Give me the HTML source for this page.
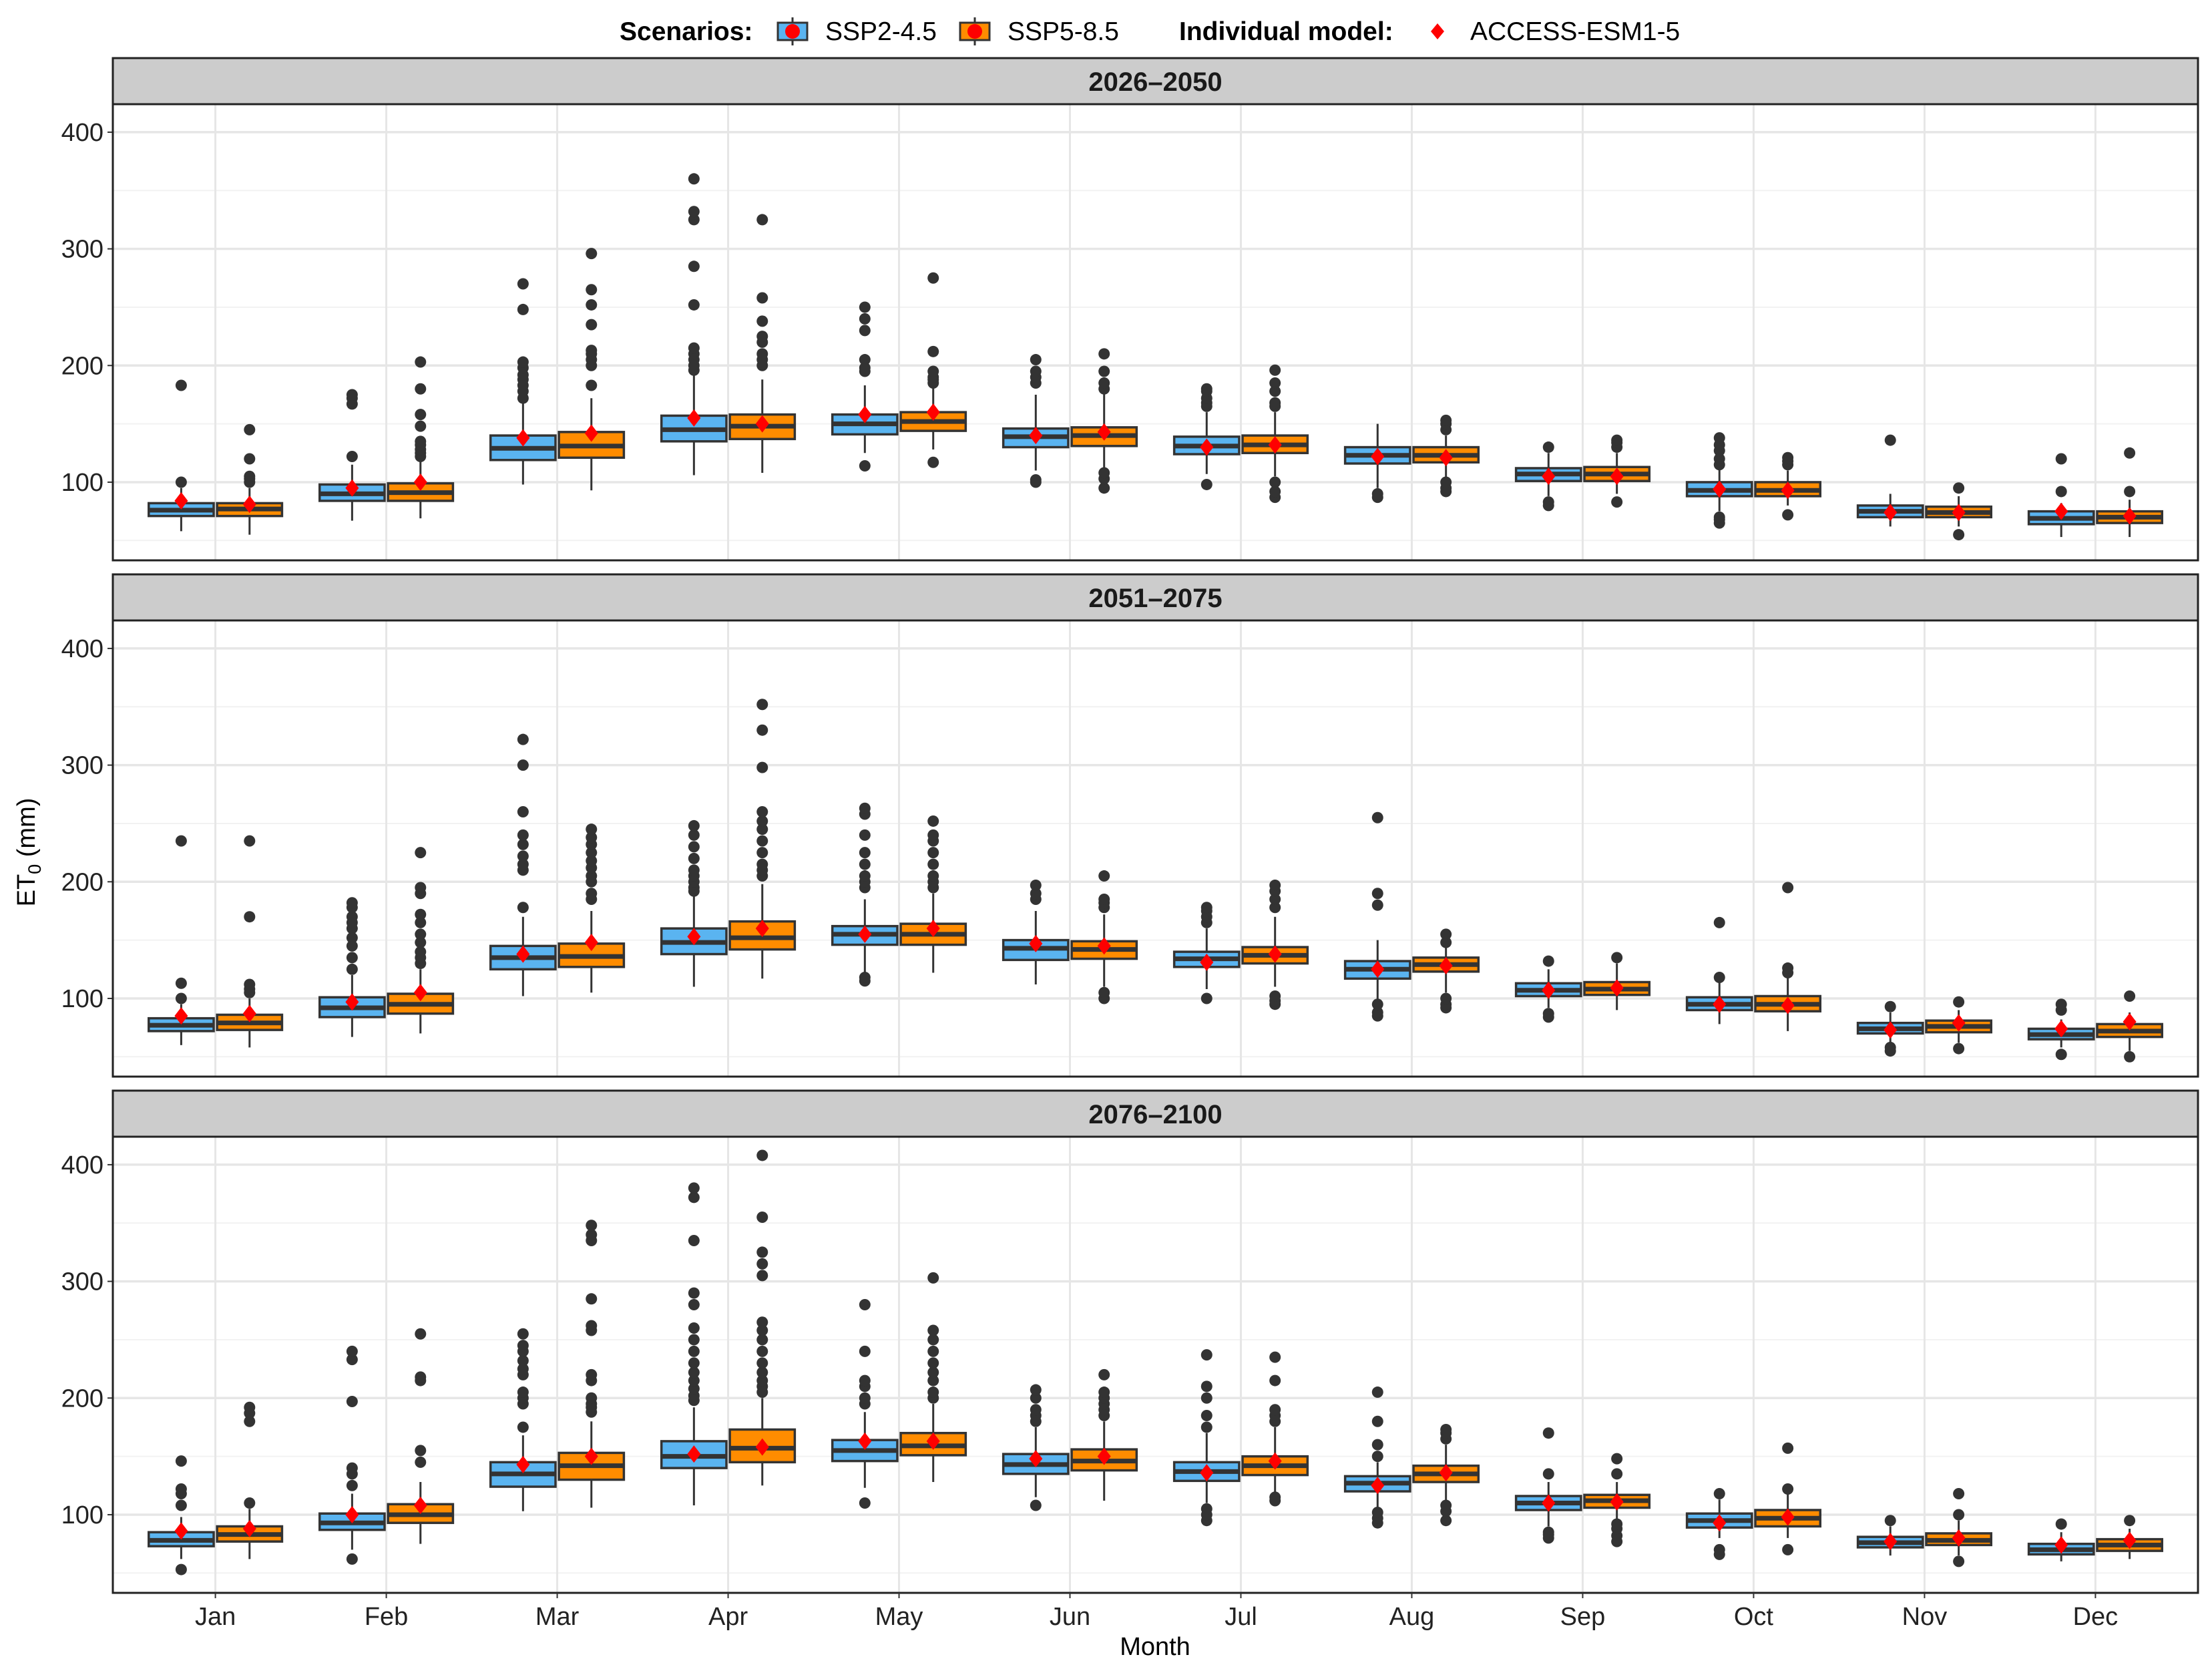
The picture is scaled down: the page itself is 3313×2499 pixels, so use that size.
<!DOCTYPE html>
<html><head><meta charset="utf-8"><style>
html,body{margin:0;padding:0;background:#fff;}
svg{display:block;font-family:"Liberation Sans",Arial,sans-serif;}
</style></head><body>
<svg id="chart" width="3313" height="2499" viewBox="0 0 3313 2499" xmlns="http://www.w3.org/2000/svg">
<g>
<text x="928" y="60" font-size="39" font-weight="bold">Scenarios:</text>
<g>
<line x1="1187" y1="26" x2="1187" y2="68" stroke="#333" stroke-width="3"/>
<rect x="1165" y="34" width="44" height="26" fill="#5ab4f0" stroke="#333" stroke-width="3"/>
<circle cx="1187" cy="47" r="11" fill="#ff0000"/>
<text x="1236" y="60" font-size="39">SSP2-4.5</text></g>
<g>
<line x1="1460" y1="26" x2="1460" y2="68" stroke="#333" stroke-width="3"/>
<rect x="1438" y="34" width="44" height="26" fill="#ff8c00" stroke="#333" stroke-width="3"/>
<circle cx="1460" cy="47" r="11" fill="#ff0000"/>
<text x="1509" y="60" font-size="39">SSP5-8.5</text></g>
<text x="1766" y="60" font-size="39" font-weight="bold">Individual model:</text>
<g>
<polygon points="2153,35 2163,47 2153,59 2143,47" fill="#ff0000"/>
<text x="2202" y="60" font-size="39">ACCESS-ESM1-5</text></g>
</g>
<text transform="translate(52,1276) rotate(-90)" text-anchor="middle" font-size="38">ET<tspan font-size="27" dy="9">0</tspan><tspan dy="-9"> (mm)</tspan></text>
<text x="1730" y="2478" text-anchor="middle" font-size="38">Month</text>
<g id="plots"></g>
</svg>
<script>
const months = ["Jan","Feb","Mar","Apr","May","Jun","Jul","Aug","Sep","Oct","Nov","Dec"];
const periods = ["2026–2050","2051–2075","2076–2100"];
const yTicks = [100,200,300,400];
const yMinor = [50,150,250,350];
// stats: [lowWhisker, q1, median, q3, highWhisker]
const p1_ssp245_stats = [[58,71,76,82,95],[67,84,90,98,115],[98,119,129,140,168],[106,135,145,157,192],[125,141,150,158,183],[110,130,139,146,175],[107,124,131,139,160],[95,116,123,130,150],[88,101,107,112,125],[75,88,93,100,112],[62,70,75,80,90],[53,64,69,75,82]];
const p1_ssp585_stats = [[55,71,77,82,95],[69,84,91,99,118],[93,121,131,143,172],[108,137,148,158,188],[128,144,152,160,183],[112,131,140,147,180],[105,125,132,140,160],[100,117,123,130,140],[90,101,107,113,125],[80,88,93,100,110],[62,70,74,79,88],[53,65,70,75,85]];
const p1_ssp245_out = [[100,183],[122,167,172,175],[172,178,183,188,192,198,203,248,270],[196,200,205,210,215,252,285,325,332,360],[114,195,198,205,230,240,250],[100,102,185,190,195,205],[98,165,168,172,178,180],[87,90],[80,83,130],[65,68,70,115,120,127,132,138],[136],[92,120]];
const p1_ssp585_out = [[100,103,105,120,145],[122,125,128,132,135,148,158,180,203],[183,200,205,210,213,235,252,265,296],[200,205,210,220,225,238,258,325],[117,185,188,190,195,212,275],[95,103,108,180,185,195,210],[87,92,100,165,168,178,185,196],[92,95,100,145,150,153],[83,130,134,136],[72,115,118,121],[55,95],[92,125]];
const p1_ssp245_model = [84,95,138,155,158,140,130,122,105,94,74,75];
const p1_ssp585_model = [81,100,142,150,160,143,132,121,105,93,74,71];

const p2_ssp245_stats = [[60,72,77,83,95],[67,84,92,101,120],[102,125,135,145,170],[110,138,148,160,188],[120,146,155,162,185],[112,133,143,150,175],[108,127,134,140,160],[98,117,125,132,150],[92,102,107,113,125],[78,90,95,101,115],[60,70,74,79,88],[58,65,69,74,82]];
const p2_ssp585_stats = [[58,73,79,86,100],[70,87,95,104,125],[105,127,136,147,175],[117,142,152,166,198],[122,146,155,164,190],[110,134,142,149,172],[110,130,137,144,170],[105,123,129,135,145],[90,103,108,114,130],[72,89,95,102,118],[62,71,76,81,90],[55,67,72,78,88]];
const p2_ssp245_out = [[100,113,235],[125,135,145,152,160,165,170,178,182],[178,210,215,222,232,240,260,300,322],[192,195,200,205,210,220,230,240,248],[115,118,195,200,205,215,225,240,258,263],[185,190,197],[100,165,170,175,178],[85,88,95,180,190,255],[84,87,132],[118,165],[55,58,93],[52,90,95]];
const p2_ssp585_out = [[105,108,112,170,235],[130,135,140,148,155,165,172,190,195,225],[185,190,200,205,212,218,225,232,238,245],[205,210,215,225,235,245,252,260,298,330,352],[195,200,205,215,225,235,240,252],[100,105,178,182,185,205],[95,98,102,178,185,192,197],[92,95,100,148,155],[135],[122,126,195],[57,97],[50,102]];
const p2_ssp245_model = [85,97,138,153,155,147,131,125,107,95,73,74];
const p2_ssp585_model = [87,105,148,160,160,145,138,128,109,94,79,80];

const p3_ssp245_stats = [[62,73,78,85,98],[70,87,93,101,118],[103,124,135,145,168],[108,140,150,163,192],[123,146,155,164,188],[115,135,143,152,175],[110,129,137,145,170],[105,120,127,133,145],[90,104,110,116,128],[80,89,95,101,113],[65,72,76,81,90],[60,66,70,75,85]];
const p3_ssp585_stats = [[62,77,83,90,105],[75,93,100,109,128],[106,130,142,153,180],[125,145,157,173,200],[128,151,159,170,195],[112,138,146,156,180],[115,134,142,150,175],[108,128,135,142,160],[95,106,112,117,128],[80,90,97,104,118],[65,74,78,84,95],[62,69,74,79,88]];
const p3_ssp245_out = [[53,108,118,122,146],[62,125,135,140,197,233,240],[175,195,200,205,220,225,232,240,245,255],[198,202,208,215,222,230,240,250,260,280,290,335,372,380],[110,195,200,210,215,240,280],[108,180,185,190,200,207],[95,100,105,175,185,200,210,237],[93,97,102,150,160,180,205],[80,83,85,135,170],[66,70,118],[95],[92]];
const p3_ssp585_out = [[110,180,187,192],[145,155,215,218,255],[188,192,195,200,215,220,258,262,285,335,340,348],[205,210,215,222,230,240,250,258,265,305,315,325,355,408],[200,205,215,222,230,240,250,258,303],[185,190,195,200,205,220],[112,115,180,185,190,215,235],[95,103,108,165,170,173],[77,82,88,92,135,148],[70,122,157],[60,100,118],[95]];
const p3_ssp245_model = [86,100,143,152,163,148,136,125,110,93,77,74];
const p3_ssp585_model = [88,108,150,158,163,150,146,136,111,98,80,78];

const panelsData = [
  [p1_ssp245_stats,p1_ssp585_stats,p1_ssp245_out,p1_ssp585_out,p1_ssp245_model,p1_ssp585_model],
  [p2_ssp245_stats,p2_ssp585_stats,p2_ssp245_out,p2_ssp585_out,p2_ssp245_model,p2_ssp585_model],
  [p3_ssp245_stats,p3_ssp585_stats,p3_ssp245_out,p3_ssp585_out,p3_ssp245_model,p3_ssp585_model]
];

const NS="http://www.w3.org/2000/svg";
const root=document.getElementById('plots');
function mk(tag,attrs,parent){const e=document.createElementNS(NS,tag);for(const k in attrs)e.setAttribute(k,attrs[k]);parent.appendChild(e);return e;}
const L=169,R=3292,YMAX=424,YMIN=33;
const stripTops=[87,860,1633], stripH=69, plotH=683;
const band=(R-L)/(months.length+0.2);
function xScale(i){return L+(i+0.6)*band;}
const colors=["#5ab4f0","#ff8c00"];
const scen=["ssp245","ssp585"];

periods.forEach((per,pi)=>{
  const g=mk('g',{},root);
  
  
  const top=stripTops[pi]+stripH, bot=top+plotH;
  const yScale=v=>top+(YMAX-v)/(YMAX-YMIN)*plotH;
  const strip=mk('rect',{x:L,y:stripTops[pi],width:R-L,height:stripH,fill:'#cccccc',stroke:'#222','stroke-width':3},g);
  
  
  const st=mk('text',{x:(L+R)/2,y:stripTops[pi]+49,'text-anchor':'middle','font-size':40,'font-weight':'bold',fill:'#1a1a1a'},g);
  st.textContent=per;
  
  
  mk('rect',{x:L,y:top,width:R-L,height:plotH,fill:'#fff'},g);
  yMinor.forEach(v=>{mk('line',{x1:L,x2:R,y1:yScale(v),y2:yScale(v),stroke:'#f2f2f2','stroke-width':2},g);});
  yTicks.forEach(v=>{
    const y=yScale(v);
    const gl=mk('line',{x1:L,x2:R,y1:y,y2:y,stroke:'#e6e6e6','stroke-width':3.5},g);
    
    
    const t=mk('text',{x:L-14,y:y+13,'text-anchor':'end','font-size':38,fill:'#222'},g);
    t.textContent=v;
    
    
    mk('line',{x1:L-8,x2:L,y1:y,y2:y,stroke:'#333','stroke-width':2},g);
  });
  months.forEach((m,i)=>{mk('line',{x1:xScale(i),x2:xScale(i),y1:top,y2:bot,stroke:'#e6e6e6','stroke-width':3},g);});
  const d=panelsData[pi];
  months.forEach((m,i)=>{
    for(let s=0;s<2;s++){
      const stats=d[s][i], outs=d[2+s][i], model=d[4+s][i];
      const cx=xScale(i)+(s===0?-0.2:0.2)*band, w=0.38*band;
      const bg=mk('g',{},g);
      
      
      mk('line',{x1:cx,x2:cx,y1:yScale(stats[0]),y2:yScale(stats[4]),stroke:'#333','stroke-width':3},bg);
      mk('rect',{x:cx-w/2,y:yScale(stats[3]),width:w,height:yScale(stats[1])-yScale(stats[3]),fill:colors[s],stroke:'#333','stroke-width':3.5},bg);
      mk('line',{x1:cx-w/2,x2:cx+w/2,y1:yScale(stats[2]),y2:yScale(stats[2]),stroke:'#333','stroke-width':7},bg);
      outs.forEach(o=>{
        const c=mk('circle',{cx:cx,cy:yScale(o),r:8.5,fill:'#333'},bg);
        
        
      });
      const dy=yScale(model);
      const dm=mk('polygon',{points:`${cx},${dy-13} ${cx+10},${dy} ${cx},${dy+13} ${cx-10},${dy}`,fill:'#ff0000'},bg);
      
      
    }
  });
  mk('rect',{x:L,y:top,width:R-L,height:plotH,fill:'none',stroke:'#222','stroke-width':3},g);
  if(pi===2){
    months.forEach((m,i)=>{
      mk('line',{x1:xScale(i),x2:xScale(i),y1:bot,y2:bot+8,stroke:'#333','stroke-width':2},g);
      const t=mk('text',{x:xScale(i),y:bot+48,'text-anchor':'middle','font-size':38,fill:'#222'},g);
      t.textContent=m;
      
      
    });
  }
});
</script>
</body></html>
